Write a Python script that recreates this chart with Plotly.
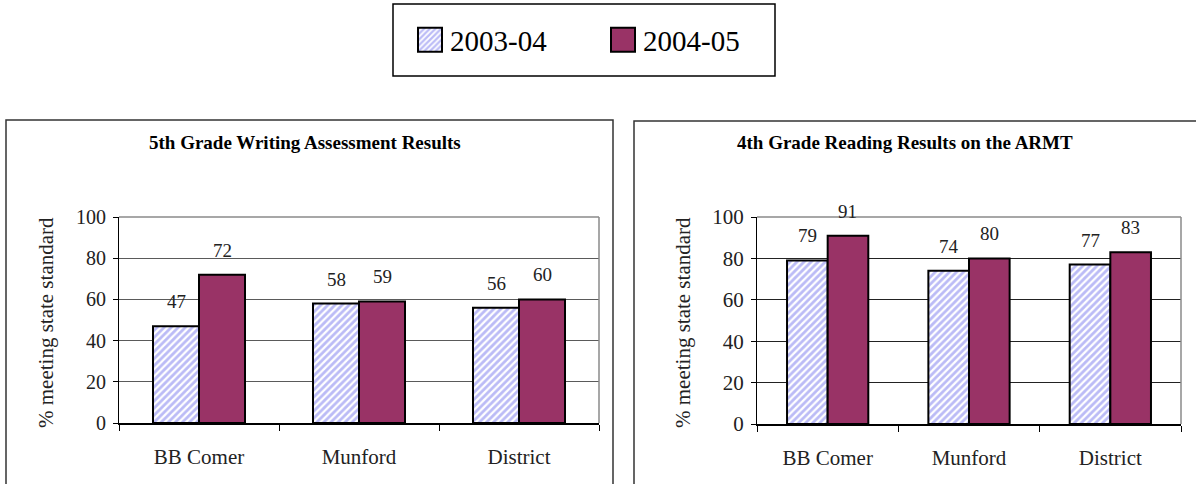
import plotly.graph_objects as go
from plotly.subplots import make_subplots

# ---- data ----
schools = ["BB Comer", "Munford", "District"]
years = ["2003-04", "2004-05"]
writing_2003_04 = [47, 58, 56]
writing_2004_05 = [72, 59, 60]
reading_2003_04 = [79, 74, 77]
reading_2004_05 = [91, 80, 83]
y_ticks = [0, 20, 40, 60, 80, 100]

panel_titles = ["5th Grade Writing Assessment Results",
                "4th Grade Reading Results on the ARMT"]
y_title = "% meeting state standard"

# ---- styling ----
W, H = 1196, 484
FONT = "'Liberation Serif', 'Times New Roman', 'DejaVu Serif', serif"
HATCH_BLUE = "#7878EE"
PLUM = "#993366"
BAR_GAP = 0.425


def px(x):
    return x / W


def py(y):
    return 1 - y / H


fig = make_subplots(rows=1, cols=2)

series = [
    (writing_2003_04, writing_2004_05, 1),
    (reading_2003_04, reading_2004_05, 2),
]

for old_vals, new_vals, col in series:
    fig.add_trace(go.Bar(
        x=schools, y=old_vals, name=years[0], legendgroup=years[0],
        showlegend=(col == 1),
        marker=dict(color="white",
                    line=dict(color="black", width=2),
                    pattern=dict(shape="/", fgcolor=HATCH_BLUE, bgcolor="white",
                                 size=5, solidity=0.55)),
    ), row=1, col=col)
    fig.add_trace(go.Bar(
        x=schools, y=new_vals, name=years[1], legendgroup=years[1],
        showlegend=(col == 1),
        marker=dict(color=PLUM, line=dict(color="black", width=2)),
    ), row=1, col=col)

    # value labels above each bar
    half = (1 - BAR_GAP) / 4
    xref = "x" if col == 1 else "x2"
    yref = "y" if col == 1 else "y2"
    for i in range(len(schools)):
        for vals, off in ((old_vals, -half), (new_vals, half)):
            fig.add_annotation(
                x=i + off, y=vals[i], xref=xref, yref=yref,
                text=str(vals[i]), showarrow=False,
                xanchor="center", yanchor="bottom", yshift=12,
                font=dict(family=FONT, size=19, color="#222"),
            )

# plot-area positions
domains = {
    1: dict(x=[px(119), px(599)], y=[py(423), py(217)], tick=20, grid="#5a5a5a"),
    2: dict(x=[px(757), px(1181)], y=[py(424), py(217)], tick=21, grid="#222222"),
}

for col, d in domains.items():
    fig.update_xaxes(
        domain=d["x"], row=1, col=col, automargin=False,
        showline=True, linecolor="black", linewidth=1.5,
        ticks="outside", tickson="boundaries", ticklen=6, tickcolor="black",
        ticklabelstandoff=14,
        tickfont=dict(family=FONT, size=21, color="#222"),
        showgrid=False, zeroline=False, fixedrange=True,
    )
    fig.update_yaxes(
        domain=d["y"], row=1, col=col, range=[0, 100], automargin=False,
        tickvals=y_ticks, showline=True, linecolor="black", linewidth=1,
        ticks="outside", ticklen=5, tickcolor="black", ticklabelstandoff=3,
        tickfont=dict(family=FONT, size=d["tick"], color="#222"),
        showgrid=True, gridcolor=d["grid"], gridwidth=1,
        zeroline=False, fixedrange=True,
    )
    # grey top/right border of the plot area
    xr = "x domain" if col == 1 else "x2 domain"
    yr = "y domain" if col == 1 else "y2 domain"
    fig.add_shape(type="line", xref=xr, yref=yr, x0=0, x1=1, y0=1, y1=1,
                  line=dict(color="#8a8a8a", width=1.5))
    fig.add_shape(type="line", xref=xr, yref=yr, x0=1, x1=1, y0=0, y1=1,
                  line=dict(color="#8a8a8a", width=1.5))

# chart-area frames
fig.add_shape(type="rect", xref="paper", yref="paper",
              x0=px(6), x1=px(613), y0=-0.2, y1=py(120),
              line=dict(color="#333", width=1.5))
fig.add_shape(type="rect", xref="paper", yref="paper",
              x0=px(634), x1=1.2, y0=-0.2, y1=py(121),
              line=dict(color="#333", width=1.5))

# legend frame
fig.add_shape(type="rect", xref="paper", yref="paper",
              x0=px(393), x1=px(775), y0=py(76), y1=py(4),
              line=dict(color="black", width=1.5))

# panel titles
for title, cx in zip(panel_titles, (305, 905)):
    fig.add_annotation(x=px(cx), y=py(143), xref="paper", yref="paper",
                       text="<b>%s</b>" % title, showarrow=False,
                       xanchor="center", yanchor="middle",
                       font=dict(family=FONT, size=19, color="black"))

# rotated y-axis titles
for cx in (46, 683):
    fig.add_annotation(x=px(cx), y=py(323), xref="paper", yref="paper",
                       text=y_title, textangle=-90, showarrow=False,
                       xanchor="center", yanchor="middle",
                       font=dict(family=FONT, size=21, color="#222"))

fig.update_layout(
    width=W, height=H,
    margin=dict(l=0, r=0, t=0, b=0, autoexpand=False),
    paper_bgcolor="white", plot_bgcolor="white",
    font=dict(family=FONT),
    barmode="group", bargap=BAR_GAP, bargroupgap=0,
    showlegend=True,
    legend=dict(orientation="h", x=px(410), y=py(40), xanchor="left",
                yanchor="middle", bgcolor="rgba(0,0,0,0)", borderwidth=0,
                entrywidth=148, entrywidthmode="pixels",
                font=dict(family=FONT, size=29, color="black")),
)

# enlarge the legend swatches
post = """
var gd = document.getElementById('{plot_id}');
function bigSwatches() {
  gd.querySelectorAll('.legendpoints path').forEach(function (p) {
    p.setAttribute('d', 'M12,12H-12V-12H12Z');
  });
}
bigSwatches();
gd.on('plotly_afterplot', bigSwatches);
"""

fig.write_html("out.html", post_script=post)
